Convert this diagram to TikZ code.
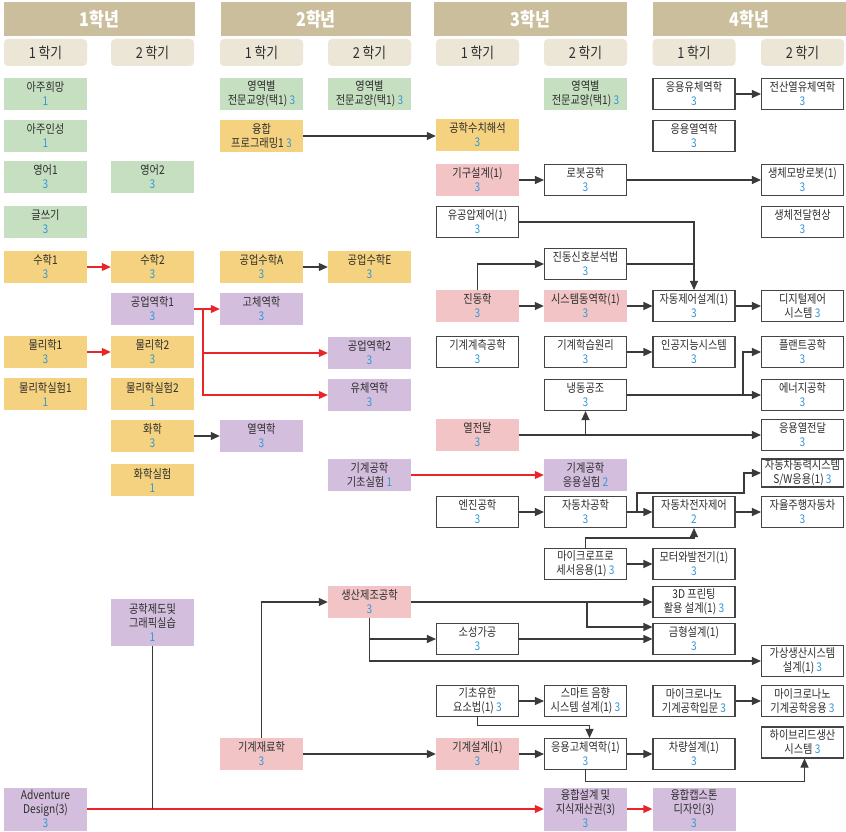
\documentclass[tikz,border=0pt]{standalone}
\usepackage{fontspec}
\newfontfamily\kr[FakeStretch=0.85]{Noto Sans CJK KR}
\usetikzlibrary{arrows.meta,calc}
\definecolor{ctan}{HTML}{CBBE9C}
\definecolor{csem}{HTML}{ECE6D6}
\definecolor{cgreen}{HTML}{C5DFC0}
\definecolor{cyellow}{HTML}{F4D27F}
\definecolor{cpurple}{HTML}{D3BEDD}
\definecolor{cpink}{HTML}{F2C4C5}
\definecolor{numc}{HTML}{3399D6}
\definecolor{cred}{HTML}{E8262A}
\definecolor{txt}{HTML}{2E2E2E}
\definecolor{bord}{HTML}{444444}
\definecolor{lnc}{HTML}{3A3A3A}
\newcommand\nm[1]{\textcolor{numc}{#1}}
\begin{document}
\begin{tikzpicture}[x=1pt,y=-1pt,
 box/.style={minimum width=83pt,minimum height=32pt,inner sep=0pt,align=center,text=txt,font=\kr\fontsize{12}{14}\selectfont},
 gbox/.style={box,fill=cgreen},
 ybox/.style={box,fill=cyellow},
 pbox/.style={box,fill=cpurple},
 rbox/.style={box,fill=cpink},
 wbox/.style={box,draw=bord,line width=1.1pt,fill=white,minimum width=82pt,minimum height=31pt},
 ln/.style={draw=lnc,line width=1.1pt},
 arr/.style={ln,-{Triangle[length=9pt,width=8pt]}},
 rarr/.style={draw=cred,line width=1.1pt,-{Triangle[length=9pt,width=8pt]}},
 yr/.style={fill=ctan,minimum height=34pt,inner sep=0pt,text=white,font=\kr\bfseries\fontsize{19}{21}\selectfont},
 sem/.style={fill=csem,rounded corners=4pt,minimum width=83pt,minimum height=27pt,inner sep=0pt,text=txt,font=\kr\fontsize{15}{17}\selectfont}
]
\useasboundingbox[fill=white] (0,0) rectangle (846,832);
% year headers
\node[yr,minimum width=191pt] (y1) at (99.5,19) {1학년};
\node[yr,minimum width=190pt] (y2) at (316,19) {2학년};
\node[yr,minimum width=193pt] (y3) at (530.5,19) {3학년};
\node[yr,minimum width=193pt] (y4) at (749.5,19) {4학년};
% semester headers
\node[sem] (s1) at (45.5,52.5) {1 학기};
\node[sem] (s2) at (152.5,52.5) {2 학기};
\node[sem] (s3) at (261.5,52.5) {1 학기};
\node[sem] (s4) at (369.5,52.5) {2 학기};
\node[sem] (s5) at (477.5,52.5) {1 학기};
\node[sem] (s6) at (585.5,52.5) {2 학기};
\node[sem] (s7) at (694,52.5) {1 학기};
\node[sem] (s8) at (802.5,52.5) {2 학기};
% column 1
\node[gbox] (a1) at (45.5,94) {아주희망\\\nm{1}};
\node[gbox] (a2) at (45.5,136) {아주인성\\\nm{1}};
\node[gbox] (a3) at (45.5,177) {영어1\\\nm{3}};
\node[gbox] (a4) at (45.5,222) {글쓰기\\\nm{3}};
\node[ybox] (a5) at (45.5,267) {수학1\\\nm{3}};
\node[ybox] (a6) at (45.5,352) {물리학1\\\nm{3}};
\node[ybox] (a7) at (45.5,394) {물리학실험1\\\nm{1}};
\node[pbox,minimum height=43pt] (a8) at (45.5,809) {Adventure\\Design(3)\\\nm{3}};
% column 2
\node[gbox] (b1) at (152.5,177) {영어2\\\nm{3}};
\node[ybox] (b2) at (152.5,267) {수학2\\\nm{3}};
\node[pbox] (b3) at (152.5,309) {공업역학1\\\nm{3}};
\node[ybox] (b4) at (152.5,352) {물리학2\\\nm{3}};
\node[ybox] (b5) at (152.5,394) {물리학실험2\\\nm{1}};
\node[ybox] (b6) at (152.5,436) {화학\\\nm{3}};
\node[ybox] (b7) at (152.5,480) {화학실험\\\nm{1}};
\node[pbox,minimum height=47pt] (b8) at (152.5,622.5) {공학제도및\\그래픽실습\\\nm{1}};
% column 3
\node[gbox] (c1) at (261.5,94) {영역별\\전문교양(택1) \nm{3}};
\node[ybox] (c2) at (261.5,136) {융합\\프로그래밍1 \nm{3}};
\node[ybox] (c3) at (261.5,267) {공업수학A\\\nm{3}};
\node[pbox] (c4) at (261.5,309) {고체역학\\\nm{3}};
\node[pbox] (c5) at (261.5,436) {열역학\\\nm{3}};
\node[rbox] (c6) at (261.5,754) {기계재료학\\\nm{3}};
% column 4
\node[gbox] (d1) at (369.5,94) {영역별\\전문교양(택1) \nm{3}};
\node[ybox] (d2) at (369.5,267) {공업수학E\\\nm{3}};
\node[pbox] (d3) at (369.5,353) {공업역학2\\\nm{3}};
\node[pbox] (d4) at (369.5,395) {유체역학\\\nm{3}};
\node[pbox] (d5) at (369.5,475) {기계공학\\기초실험 \nm{1}};
\node[rbox] (d6) at (369.5,602) {생산제조공학\\\nm{3}};
% column 5
\node[ybox] (e1) at (477.5,135) {공학수치해석\\\nm{3}};
\node[rbox] (e2) at (477.5,180) {기구설계(1)\\\nm{3}};
\node[wbox] (e3) at (477.5,222) {유공압제어(1)\\\nm{3}};
\node[rbox] (e4) at (477.5,306) {진동학\\\nm{3}};
\node[wbox] (e5) at (477.5,352) {기계계측공학\\\nm{3}};
\node[rbox] (e6) at (477.5,435) {열전달\\\nm{3}};
\node[wbox] (e7) at (477.5,512) {엔진공학\\\nm{3}};
\node[wbox] (e8) at (477.5,639) {소성가공\\\nm{3}};
\node[wbox] (e9) at (477.5,701) {기초유한\\요소법(1) \nm{3}};
\node[rbox] (e10) at (477.5,754) {기계설계(1)\\\nm{3}};
% column 6
\node[gbox] (f1) at (585.5,94) {영역별\\전문교양(택1) \nm{3}};
\node[wbox] (f2) at (585.5,180) {로봇공학\\\nm{3}};
\node[wbox] (f3) at (585.5,264) {진동신호분석법\\\nm{3}};
\node[rbox] (f4) at (585.5,306) {시스템동역학(1)\\\nm{3}};
\node[wbox] (f5) at (585.5,352) {기계학습원리\\\nm{3}};
\node[wbox] (f6) at (585.5,395) {냉동공조\\\nm{3}};
\node[pbox] (f7) at (585.5,475) {기계공학\\응용실험 \nm{2}};
\node[wbox] (f8) at (585.5,512) {자동차공학\\\nm{3}};
\node[wbox] (f9) at (585.5,564) {마이크로프로\\세서응용(1) \nm{3}};
\node[wbox] (f10) at (585.5,701) {스마트 음향\\시스템 설계(1) \nm{3}};
\node[wbox] (f11) at (585.5,754) {응용고체역학(1)\\\nm{3}};
\node[pbox,minimum height=43pt] (f12) at (585.5,809) {융합설계 및\\지식재산권(3)\\\nm{3}};
% column 7
\node[wbox] (g1) at (694,94) {응용유체역학\\\nm{3}};
\node[wbox] (g2) at (694,136) {응용열역학\\\nm{3}};
\node[wbox] (g3) at (694,306) {자동제어설계(1)\\\nm{3}};
\node[wbox] (g4) at (694,352) {인공지능시스템\\\nm{3}};
\node[wbox] (g5) at (694,512) {자동차전자제어\\\nm{2}};
\node[wbox] (g6) at (694,564) {모터와발전기(1)\\\nm{3}};
\node[wbox] (g7) at (694,602) {3D 프린팅\\활용 설계(1) \nm{3}};
\node[wbox] (g8) at (694,639) {금형설계(1)\\\nm{3}};
\node[wbox] (g9) at (694,701) {마이크로나노\\기계공학입문 \nm{3}};
\node[wbox] (g10) at (694,754) {차량설계(1)\\\nm{3}};
\node[pbox,minimum height=43pt] (g11) at (694,809) {융합캡스톤\\디자인(3)\\\nm{3}};
% column 8
\node[wbox] (h1) at (802.5,94) {전산열유체역학\\\nm{3}};
\node[wbox] (h2) at (802.5,180) {생체모방로봇(1)\\\nm{3}};
\node[wbox] (h3) at (802.5,222) {생체전달현상\\\nm{3}};
\node[wbox] (h4) at (802.5,306) {디지털제어\\시스템 \nm{3}};
\node[wbox] (h5) at (802.5,352) {플랜트공학\\\nm{3}};
\node[wbox] (h6) at (802.5,395) {에너지공학\\\nm{3}};
\node[wbox] (h7) at (802.5,435) {응용열전달\\\nm{3}};
\node[wbox,minimum height=28pt] (h8) at (802.5,473) {자동차동력시스템\\S/W응용(1) \nm{3}};
\node[wbox] (h9) at (802.5,512) {자율주행자동차\\\nm{3}};
\node[wbox] (h10) at (802.5,661) {가상생산시스템\\설계(1) \nm{3}};
\node[wbox] (h11) at (802.5,701) {마이크로나노\\기계공학응용 \nm{3}};
\node[wbox] (h12) at (802.5,742.5) {하이브리드생산\\시스템 \nm{3}};
% junctions
\coordinate (j1) at (743,395);
\coordinate (j3) at (637,512);
\coordinate (j4) at (744,493);
\coordinate (j6) at (587,602);
\coordinate (j7) at (203,309);
% red connectors
\draw[rarr] (a5) -- (b2);
\draw[rarr] (a6) -- (b4);
\draw[rarr] (b3) -- (c4);
\draw[rarr] (j7) |- (d3.west);
\draw[rarr] (j7) |- (d4.west);
\draw[rarr] (d5) -- (f7);
\draw[rarr] (a8.east) -- (f12.west);
\draw[draw=lnc,line width=1.1pt] (b8.south) -- (b8.south |- a8.east);
\draw[rarr] (f12) -- (g11);
% black connectors
\draw[arr] (c2.east) -- (e1.west |- c2.east);
\draw[arr] (c3) -- (d2);
\draw[arr] (b6) -- (c5);
\draw[arr] (g1) -- (h1);
\draw[arr] (e2) -- (f2);
\draw[arr] (f2) -- (h2);
\draw[arr] (e3.east) -| (g3.north);
\draw[ln] (f3.east) -- (f3.east -| g3.north);
\draw[arr] (e4.north) |- (f3.west);
\draw[arr] (e4) -- (f4);
\draw[arr] (f4) -- (g3);
\draw[arr] (g3) -- (h4);
\draw[arr] (f5) -- (g4);
\draw[arr] (f6.east) -- (h6.west);
\draw[arr] (j1) |- (h5.west);
\draw[arr] (e6.east) -- (h7.west);
\draw[arr] (f6.south |- e6.east) -- (f6.south);
\draw[arr] (e7) -- (f8);
\draw[arr] (f8) -- (g5);
\draw[arr] (j3) |- (j4) |- (h8.west);
\draw[arr] (g5) -- (h9);
\draw[arr] (f9.north) -- ++(0,-10) -| (g5.south);
\draw[arr] (f9) -- (g6);
\draw[arr] (d6.east) -- (g7.west);
\draw[arr] (j6) |- ($(g8.west)+(0,-12)$);
\draw[arr] (d6.south) |- (h10.west);
\draw[arr] (d6.south |- e8.west) -- (e8.west);
\draw[arr] (e8) -- (g8);
\draw[arr] (c6.north) |- (d6.west);
\draw[arr] (c6) -- (e10);
\draw[arr] (e9) -- (f10);
\draw[arr] (g9) -- (h11);
\draw[arr] (e9.south) -- ++(0,8) -| ($(f11.north)+(4,0)$);
\draw[arr] (e10) -- (f11);
\draw[arr] (f11) -- (g10);
\draw[arr] (f11.south) -- ++(0,11) -| ($(h12.south)+(2,0)$);
\end{tikzpicture}
\end{document}
